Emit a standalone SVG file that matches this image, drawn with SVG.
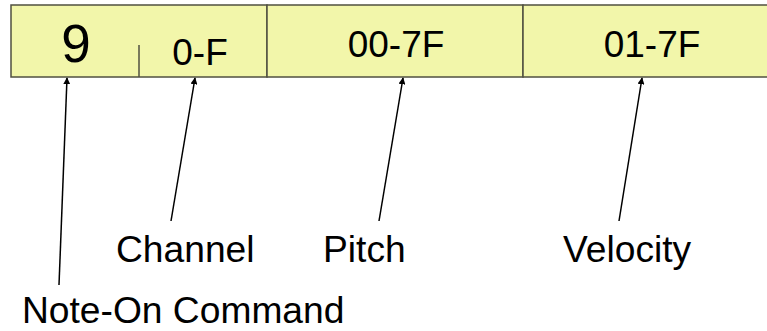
<svg xmlns="http://www.w3.org/2000/svg" width="767" height="331" viewBox="0 0 767 331">
<defs>
<style>
.t{font-family:"Liberation Sans",Arial,sans-serif;fill:#000;}
.f{fill:#f2f6aa;stroke:#505040;stroke-width:1.5;}
.d{stroke:#505040;stroke-width:1.5;}
.c{stroke:#000;stroke-width:1.5;fill:none;marker-end:url(#ah);}
</style>
<marker id="ah" viewBox="0 0 10 10" refX="9" refY="5" markerWidth="7" markerHeight="7" markerUnits="userSpaceOnUse" orient="auto">
<path d="M0,0 L10,5 L0,10 z" fill="#000"/>
</marker>
</defs>
<rect x="0" y="0" width="767" height="331" fill="#fff"/>
<g id="field-command">
<rect class="f" x="11" y="5" width="256" height="72"/>
<line class="d" x1="139" y1="45" x2="139" y2="77"/>
<text class="t" x="76" y="62" font-size="53" text-anchor="middle">9</text>
<text class="t" x="200" y="65" font-size="37" text-anchor="middle">0-F</text>
</g>
<g id="field-pitch">
<rect class="f" x="267" y="5" width="256" height="72"/>
<text class="t" x="396" y="57" font-size="37" text-anchor="middle">00-7F</text>
</g>
<g id="field-velocity">
<rect class="f" x="523" y="5" width="260" height="72"/>
<text class="t" x="652" y="57" font-size="37" text-anchor="middle">01-7F</text>
</g>
<g id="connectors">
<line class="c" x1="59" y1="285" x2="67" y2="78"/>
<line class="c" x1="171" y1="221" x2="195" y2="78"/>
<line class="c" x1="379" y1="221" x2="403" y2="78"/>
<line class="c" x1="619" y1="221" x2="642" y2="78"/>
</g>
<g id="label-command"><text class="t" x="22" y="323" font-size="37.2">Note-On Command</text></g>
<g id="label-channel"><text class="t" x="116" y="262" font-size="37.2">Channel</text></g>
<g id="label-pitch"><text class="t" x="323" y="262" font-size="37.2">Pitch</text></g>
<g id="label-velocity"><text class="t" x="563" y="262" font-size="37.2">Velocity</text></g>
</svg>
